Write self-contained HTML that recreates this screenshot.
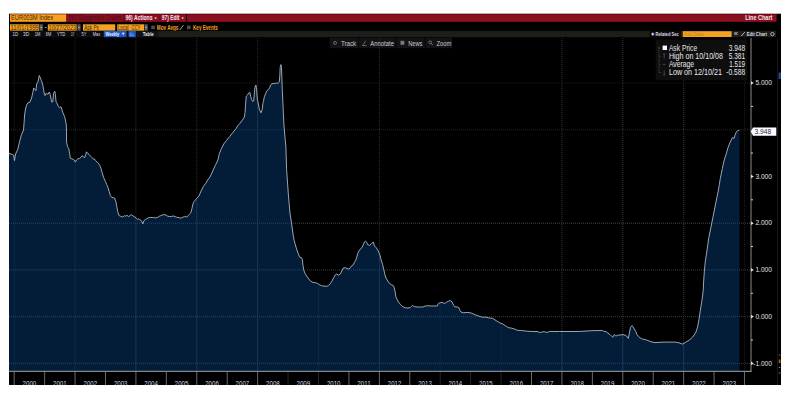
<!DOCTYPE html>
<html><head><meta charset="utf-8">
<style>
html,body{margin:0;padding:0;background:#fff;width:794px;height:410px;overflow:hidden}
svg{display:block}
text{font-family:"Liberation Sans",sans-serif}
</style></head>
<body>
<svg width="794" height="410" viewBox="0 0 794 410">
<defs>
<clipPath id="ca"><path d="M9.0,153.4 L12.5,154.5 L13.6,155.0 L14.5,160.7 L15.6,154.0 L17.7,149.5 L19.6,141.7 L21.1,135.9 L23.5,130.0 L24.1,122.6 L24.6,115.0 L25.5,109.0 L26.7,104.8 L27.9,102.9 L29.8,102.3 L31.6,98.0 L32.8,92.6 L33.7,88.0 L34.9,89.5 L35.9,90.7 L36.8,83.4 L38.0,81.6 L39.3,75.5 L40.1,77.3 L41.3,80.4 L42.6,84.0 L43.8,90.7 L44.4,94.4 L45.0,95.6 L46.2,93.2 L48.0,94.4 L49.3,92.0 L50.2,94.4 L51.1,99.3 L52.0,102.3 L52.9,101.1 L53.5,93.2 L54.8,91.3 L55.4,94.4 L56.0,101.7 L57.2,103.5 L58.4,106.6 L59.6,107.8 L60.9,106.6 L62.1,110.2 L63.3,113.9 L64.5,116.3 L65.4,120.0 L66.3,125.0 L66.5,135.0 L66.6,142.3 L67.5,146.6 L68.7,148.4 L69.6,153.3 L70.3,158.2 L71.8,158.8 L73.6,159.4 L74.8,161.2 L75.4,162.1 L76.4,160.0 L77.9,158.8 L79.7,158.4 L81.3,157.0 L82.1,155.7 L83.3,156.7 L84.6,157.6 L85.8,154.5 L86.4,151.8 L87.6,153.3 L89.1,154.5 L90.7,156.3 L91.9,157.6 L93.5,159.1 L94.3,158.8 L95.5,160.6 L97.4,162.4 L98.6,163.7 L99.8,165.5 L101.0,168.5 L102.2,172.8 L103.6,177.5 L105.5,181.6 L106.7,184.6 L107.9,187.1 L109.1,191.3 L110.4,195.6 L111.6,197.4 L113.4,197.8 L114.6,198.0 L115.9,201.7 L116.8,206.6 L117.7,211.5 L118.9,215.4 L120.7,216.3 L122.6,217.0 L124.4,215.7 L125.6,216.1 L127.1,215.4 L128.7,216.6 L130.5,215.1 L131.7,214.9 L133.2,216.1 L134.8,217.0 L136.3,218.2 L137.8,219.4 L139.0,218.8 L140.0,219.8 L141.5,220.8 L142.9,223.8 L144.0,220.5 L145.5,219.4 L146.9,218.7 L148.8,217.6 L150.6,217.4 L152.4,217.6 L154.3,217.6 L155.7,217.9 L157.2,217.6 L158.7,216.5 L160.5,215.7 L162.3,215.0 L164.1,214.6 L166.0,215.0 L167.4,216.1 L169.3,216.5 L171.5,216.5 L173.3,215.9 L175.1,216.8 L177.3,217.4 L179.1,217.6 L181.0,218.3 L182.8,217.2 L184.6,216.5 L186.8,217.0 L188.3,215.4 L189.7,213.9 L190.8,212.8 L191.9,208.8 L193.0,203.7 L194.1,201.5 L196.7,198.3 L198.9,196.1 L201.1,191.0 L203.3,186.6 L204.3,185.1 L205.5,183.7 L207.7,180.0 L209.9,177.1 L211.4,174.2 L213.6,169.0 L215.7,164.6 L217.9,160.0 L219.4,153.5 L221.6,148.3 L223.8,143.9 L226.7,140.3 L229.6,136.6 L232.6,132.9 L235.5,129.3 L238.4,124.9 L240.0,123.2 L242.4,120.1 L244.3,117.1 L245.1,112.2 L245.5,104.9 L245.9,100.2 L246.3,96.0 L247.6,94.8 L248.8,92.9 L249.8,92.3 L250.7,96.6 L251.6,99.6 L252.8,101.5 L253.7,100.9 L254.4,92.9 L254.9,87.4 L255.9,85.0 L256.6,89.3 L257.3,99.0 L258.3,104.0 L259.5,109.8 L261.0,112.8 L262.2,109.8 L262.9,103.5 L263.4,101.5 L264.4,96.6 L265.9,92.9 L267.1,90.5 L268.7,89.3 L269.9,87.4 L270.5,85.0 L272.0,83.8 L274.1,83.4 L276.6,83.2 L278.4,82.9 L279.3,82.0 L279.8,75.9 L280.2,67.3 L280.9,64.6 L281.5,67.3 L281.8,75.9 L282.3,90.5 L282.9,102.7 L283.3,112.2 L283.9,124.4 L284.9,136.6 L285.9,147.0 L286.6,169.4 L288.3,193.8 L290.0,213.3 L291.5,223.0 L293.2,235.2 L294.2,240.5 L295.4,244.9 L296.6,249.1 L298.2,253.4 L299.6,257.1 L301.5,257.7 L302.3,259.5 L303.0,265.6 L303.9,270.5 L305.1,273.5 L307.0,276.6 L308.8,279.0 L310.6,281.2 L313.0,282.4 L315.5,282.7 L317.3,283.3 L319.1,284.5 L321.6,285.7 L324.0,286.1 L326.5,286.3 L328.3,285.7 L330.1,283.9 L331.8,281.3 L333.7,277.7 L335.5,274.6 L336.7,274.0 L338.5,275.2 L340.4,274.0 L342.0,270.4 L343.4,267.9 L345.2,267.7 L347.1,268.5 L348.9,269.1 L350.1,267.9 L351.3,266.1 L353.2,264.9 L354.4,262.4 L355.6,260.6 L356.8,257.0 L357.8,253.3 L359.0,250.9 L360.5,249.0 L362.0,247.2 L363.2,244.8 L364.4,242.1 L365.6,241.1 L366.6,242.3 L367.8,244.8 L369.6,245.4 L371.5,243.5 L373.3,242.1 L374.5,246.0 L376.3,247.8 L378.2,250.9 L379.9,254.9 L381.1,259.8 L382.6,264.6 L383.8,269.5 L384.8,274.4 L386.0,278.0 L387.8,281.1 L389.6,283.5 L391.5,284.8 L393.3,285.6 L394.3,287.8 L395.1,291.5 L395.8,296.6 L397.0,299.4 L398.7,302.3 L400.7,304.8 L402.8,306.8 L405.7,307.9 L408.1,308.0 L410.2,307.6 L411.4,306.4 L412.6,305.4 L414.3,306.6 L417.1,307.0 L419.6,307.0 L422.9,307.0 L425.3,306.0 L427.8,305.7 L431.1,306.0 L434.3,306.0 L437.2,306.0 L438.4,303.5 L440.1,302.7 L442.1,302.5 L444.6,303.5 L446.6,302.1 L448.7,301.1 L450.3,300.5 L452.0,301.9 L453.6,305.2 L454.8,306.8 L457.3,307.0 L458.9,307.6 L460.0,310.5 L461.1,312.1 L463.7,312.8 L467.1,312.4 L470.5,312.8 L473.0,313.8 L475.6,315.0 L479.0,316.2 L482.4,317.2 L485.8,317.2 L489.2,317.9 L492.7,318.4 L496.1,320.6 L499.5,322.7 L502.9,324.0 L506.3,326.4 L508.9,327.8 L511.4,328.1 L514.8,329.1 L517.4,330.3 L521.7,330.5 L526.8,331.2 L531.9,331.5 L537.0,331.5 L540.4,332.6 L543.0,331.7 L545.6,332.0 L547.2,332.5 L549.4,331.5 L559.6,331.5 L578.7,331.5 L591.9,330.7 L602.6,330.5 L604.1,331.5 L606.0,331.6 L607.8,333.1 L610.1,334.6 L612.8,337.3 L614.3,334.6 L615.8,336.1 L617.7,335.2 L620.0,335.0 L623.0,334.6 L625.2,335.2 L626.7,336.1 L628.3,338.4 L629.4,333.1 L630.5,327.4 L632.0,325.6 L632.8,326.7 L634.3,329.0 L635.8,331.6 L637.0,334.6 L638.5,336.5 L640.4,338.0 L642.6,339.2 L644.9,339.5 L647.9,340.5 L650.9,341.8 L655.0,342.6 L658.0,342.4 L665.4,342.1 L675.2,342.1 L679.1,342.9 L682.6,344.1 L685.9,342.1 L689.8,339.6 L692.7,337.0 L695.7,332.7 L697.6,326.9 L699.0,319.1 L700.2,311.3 L702.1,299.5 L703.3,289.8 L703.6,282.0 L704.3,271.8 L705.4,260.8 L707.1,249.8 L708.6,238.9 L710.8,227.9 L713.0,216.9 L715.2,206.0 L717.4,195.0 L718.0,192.1 L719.4,184.3 L720.3,178.5 L722.3,168.7 L724.2,160.0 L726.2,154.1 L728.1,147.3 L730.1,142.4 L732.4,137.5 L734.0,138.5 L735.0,135.2 L736.3,132.1 L737.5,130.7 L739.2,130.3 L739.5,130.3 L739.5,371 L9,371 Z"/></clipPath>
<clipPath id="cb"><rect x="9" y="13.5" width="772" height="371.5"/></clipPath>
</defs>
<rect x="9" y="13.7" width="772" height="371.3" fill="#000"/>
<line x1="777.5" y1="38" x2="777.5" y2="385" stroke="#161616"/>
<rect x="778.6" y="72.5" width="2.2" height="6.5" fill="#1d4f96"/>
<rect x="778.8" y="359.5" width="1.6" height="3.6" fill="#b8681a"/>
<rect x="778.8" y="354.5" width="1.4" height="1" fill="#888"/>
<rect x="778.8" y="367" width="1.4" height="1" fill="#888"/>
<rect x="778.8" y="372.5" width="1.4" height="1" fill="#888"/>
<line x1="14.20" y1="38" x2="14.20" y2="371" stroke="#1e1e1e" stroke-dasharray="1 1"/>
<line x1="75.06" y1="38" x2="75.06" y2="371" stroke="#1e1e1e" stroke-dasharray="1 1"/>
<line x1="135.92" y1="38" x2="135.92" y2="371" stroke="#2c2c2c" stroke-dasharray="1 1"/>
<line x1="196.78" y1="38" x2="196.78" y2="371" stroke="#2c2c2c" stroke-dasharray="1 1"/>
<line x1="257.64" y1="38" x2="257.64" y2="371" stroke="#2c2c2c" stroke-dasharray="1 1"/>
<line x1="379.36" y1="38" x2="379.36" y2="371" stroke="#2c2c2c" stroke-dasharray="1 1"/>
<line x1="561.94" y1="38" x2="561.94" y2="371" stroke="#363636" stroke-dasharray="1 1"/>
<line x1="622.80" y1="38" x2="622.80" y2="371" stroke="#363636" stroke-dasharray="1 1"/>
<line x1="683.66" y1="38" x2="683.66" y2="371" stroke="#363636" stroke-dasharray="1 1"/>
<line x1="744.52" y1="38" x2="744.52" y2="371" stroke="#1e1e1e" stroke-dasharray="1 1"/>
<line x1="9" y1="363.38" x2="750" y2="363.38" stroke="#3c3c3c" stroke-dasharray="1 1"/>
<line x1="9" y1="316.65" x2="750" y2="316.65" stroke="#3c3c3c" stroke-dasharray="1 1"/>
<line x1="9" y1="269.92" x2="750" y2="269.92" stroke="#3c3c3c" stroke-dasharray="1 1"/>
<line x1="9" y1="223.19" x2="750" y2="223.19" stroke="#464646" stroke-dasharray="1 1"/>
<line x1="9" y1="129.73" x2="750" y2="129.73" stroke="#262626" stroke-dasharray="1 1"/>
<line x1="9" y1="83.00" x2="750" y2="83.00" stroke="#1a1a1a" stroke-dasharray="1 1"/>
<path d="M9.0,153.4 L12.5,154.5 L13.6,155.0 L14.5,160.7 L15.6,154.0 L17.7,149.5 L19.6,141.7 L21.1,135.9 L23.5,130.0 L24.1,122.6 L24.6,115.0 L25.5,109.0 L26.7,104.8 L27.9,102.9 L29.8,102.3 L31.6,98.0 L32.8,92.6 L33.7,88.0 L34.9,89.5 L35.9,90.7 L36.8,83.4 L38.0,81.6 L39.3,75.5 L40.1,77.3 L41.3,80.4 L42.6,84.0 L43.8,90.7 L44.4,94.4 L45.0,95.6 L46.2,93.2 L48.0,94.4 L49.3,92.0 L50.2,94.4 L51.1,99.3 L52.0,102.3 L52.9,101.1 L53.5,93.2 L54.8,91.3 L55.4,94.4 L56.0,101.7 L57.2,103.5 L58.4,106.6 L59.6,107.8 L60.9,106.6 L62.1,110.2 L63.3,113.9 L64.5,116.3 L65.4,120.0 L66.3,125.0 L66.5,135.0 L66.6,142.3 L67.5,146.6 L68.7,148.4 L69.6,153.3 L70.3,158.2 L71.8,158.8 L73.6,159.4 L74.8,161.2 L75.4,162.1 L76.4,160.0 L77.9,158.8 L79.7,158.4 L81.3,157.0 L82.1,155.7 L83.3,156.7 L84.6,157.6 L85.8,154.5 L86.4,151.8 L87.6,153.3 L89.1,154.5 L90.7,156.3 L91.9,157.6 L93.5,159.1 L94.3,158.8 L95.5,160.6 L97.4,162.4 L98.6,163.7 L99.8,165.5 L101.0,168.5 L102.2,172.8 L103.6,177.5 L105.5,181.6 L106.7,184.6 L107.9,187.1 L109.1,191.3 L110.4,195.6 L111.6,197.4 L113.4,197.8 L114.6,198.0 L115.9,201.7 L116.8,206.6 L117.7,211.5 L118.9,215.4 L120.7,216.3 L122.6,217.0 L124.4,215.7 L125.6,216.1 L127.1,215.4 L128.7,216.6 L130.5,215.1 L131.7,214.9 L133.2,216.1 L134.8,217.0 L136.3,218.2 L137.8,219.4 L139.0,218.8 L140.0,219.8 L141.5,220.8 L142.9,223.8 L144.0,220.5 L145.5,219.4 L146.9,218.7 L148.8,217.6 L150.6,217.4 L152.4,217.6 L154.3,217.6 L155.7,217.9 L157.2,217.6 L158.7,216.5 L160.5,215.7 L162.3,215.0 L164.1,214.6 L166.0,215.0 L167.4,216.1 L169.3,216.5 L171.5,216.5 L173.3,215.9 L175.1,216.8 L177.3,217.4 L179.1,217.6 L181.0,218.3 L182.8,217.2 L184.6,216.5 L186.8,217.0 L188.3,215.4 L189.7,213.9 L190.8,212.8 L191.9,208.8 L193.0,203.7 L194.1,201.5 L196.7,198.3 L198.9,196.1 L201.1,191.0 L203.3,186.6 L204.3,185.1 L205.5,183.7 L207.7,180.0 L209.9,177.1 L211.4,174.2 L213.6,169.0 L215.7,164.6 L217.9,160.0 L219.4,153.5 L221.6,148.3 L223.8,143.9 L226.7,140.3 L229.6,136.6 L232.6,132.9 L235.5,129.3 L238.4,124.9 L240.0,123.2 L242.4,120.1 L244.3,117.1 L245.1,112.2 L245.5,104.9 L245.9,100.2 L246.3,96.0 L247.6,94.8 L248.8,92.9 L249.8,92.3 L250.7,96.6 L251.6,99.6 L252.8,101.5 L253.7,100.9 L254.4,92.9 L254.9,87.4 L255.9,85.0 L256.6,89.3 L257.3,99.0 L258.3,104.0 L259.5,109.8 L261.0,112.8 L262.2,109.8 L262.9,103.5 L263.4,101.5 L264.4,96.6 L265.9,92.9 L267.1,90.5 L268.7,89.3 L269.9,87.4 L270.5,85.0 L272.0,83.8 L274.1,83.4 L276.6,83.2 L278.4,82.9 L279.3,82.0 L279.8,75.9 L280.2,67.3 L280.9,64.6 L281.5,67.3 L281.8,75.9 L282.3,90.5 L282.9,102.7 L283.3,112.2 L283.9,124.4 L284.9,136.6 L285.9,147.0 L286.6,169.4 L288.3,193.8 L290.0,213.3 L291.5,223.0 L293.2,235.2 L294.2,240.5 L295.4,244.9 L296.6,249.1 L298.2,253.4 L299.6,257.1 L301.5,257.7 L302.3,259.5 L303.0,265.6 L303.9,270.5 L305.1,273.5 L307.0,276.6 L308.8,279.0 L310.6,281.2 L313.0,282.4 L315.5,282.7 L317.3,283.3 L319.1,284.5 L321.6,285.7 L324.0,286.1 L326.5,286.3 L328.3,285.7 L330.1,283.9 L331.8,281.3 L333.7,277.7 L335.5,274.6 L336.7,274.0 L338.5,275.2 L340.4,274.0 L342.0,270.4 L343.4,267.9 L345.2,267.7 L347.1,268.5 L348.9,269.1 L350.1,267.9 L351.3,266.1 L353.2,264.9 L354.4,262.4 L355.6,260.6 L356.8,257.0 L357.8,253.3 L359.0,250.9 L360.5,249.0 L362.0,247.2 L363.2,244.8 L364.4,242.1 L365.6,241.1 L366.6,242.3 L367.8,244.8 L369.6,245.4 L371.5,243.5 L373.3,242.1 L374.5,246.0 L376.3,247.8 L378.2,250.9 L379.9,254.9 L381.1,259.8 L382.6,264.6 L383.8,269.5 L384.8,274.4 L386.0,278.0 L387.8,281.1 L389.6,283.5 L391.5,284.8 L393.3,285.6 L394.3,287.8 L395.1,291.5 L395.8,296.6 L397.0,299.4 L398.7,302.3 L400.7,304.8 L402.8,306.8 L405.7,307.9 L408.1,308.0 L410.2,307.6 L411.4,306.4 L412.6,305.4 L414.3,306.6 L417.1,307.0 L419.6,307.0 L422.9,307.0 L425.3,306.0 L427.8,305.7 L431.1,306.0 L434.3,306.0 L437.2,306.0 L438.4,303.5 L440.1,302.7 L442.1,302.5 L444.6,303.5 L446.6,302.1 L448.7,301.1 L450.3,300.5 L452.0,301.9 L453.6,305.2 L454.8,306.8 L457.3,307.0 L458.9,307.6 L460.0,310.5 L461.1,312.1 L463.7,312.8 L467.1,312.4 L470.5,312.8 L473.0,313.8 L475.6,315.0 L479.0,316.2 L482.4,317.2 L485.8,317.2 L489.2,317.9 L492.7,318.4 L496.1,320.6 L499.5,322.7 L502.9,324.0 L506.3,326.4 L508.9,327.8 L511.4,328.1 L514.8,329.1 L517.4,330.3 L521.7,330.5 L526.8,331.2 L531.9,331.5 L537.0,331.5 L540.4,332.6 L543.0,331.7 L545.6,332.0 L547.2,332.5 L549.4,331.5 L559.6,331.5 L578.7,331.5 L591.9,330.7 L602.6,330.5 L604.1,331.5 L606.0,331.6 L607.8,333.1 L610.1,334.6 L612.8,337.3 L614.3,334.6 L615.8,336.1 L617.7,335.2 L620.0,335.0 L623.0,334.6 L625.2,335.2 L626.7,336.1 L628.3,338.4 L629.4,333.1 L630.5,327.4 L632.0,325.6 L632.8,326.7 L634.3,329.0 L635.8,331.6 L637.0,334.6 L638.5,336.5 L640.4,338.0 L642.6,339.2 L644.9,339.5 L647.9,340.5 L650.9,341.8 L655.0,342.6 L658.0,342.4 L665.4,342.1 L675.2,342.1 L679.1,342.9 L682.6,344.1 L685.9,342.1 L689.8,339.6 L692.7,337.0 L695.7,332.7 L697.6,326.9 L699.0,319.1 L700.2,311.3 L702.1,299.5 L703.3,289.8 L703.6,282.0 L704.3,271.8 L705.4,260.8 L707.1,249.8 L708.6,238.9 L710.8,227.9 L713.0,216.9 L715.2,206.0 L717.4,195.0 L718.0,192.1 L719.4,184.3 L720.3,178.5 L722.3,168.7 L724.2,160.0 L726.2,154.1 L728.1,147.3 L730.1,142.4 L732.4,137.5 L734.0,138.5 L735.0,135.2 L736.3,132.1 L737.5,130.7 L739.2,130.3 L739.5,130.3 L739.5,371 L9,371 Z" fill="#031c38"/>
<g clip-path="url(#ca)">
<line x1="14.20" y1="38" x2="14.20" y2="371" stroke="#0e2948"/>
<line x1="75.06" y1="38" x2="75.06" y2="371" stroke="#0e2948"/>
<line x1="135.92" y1="38" x2="135.92" y2="371" stroke="#173655"/>
<line x1="196.78" y1="38" x2="196.78" y2="371" stroke="#173655"/>
<line x1="257.64" y1="38" x2="257.64" y2="371" stroke="#173655"/>
<line x1="318.50" y1="38" x2="318.50" y2="371" stroke="#0b2544"/>
<line x1="379.36" y1="38" x2="379.36" y2="371" stroke="#173655"/>
<line x1="440.22" y1="38" x2="440.22" y2="371" stroke="#0b2544"/>
<line x1="501.08" y1="38" x2="501.08" y2="371" stroke="#0b2544"/>
<line x1="561.94" y1="38" x2="561.94" y2="371" stroke="#1a3a5c"/>
<line x1="622.80" y1="38" x2="622.80" y2="371" stroke="#1a3a5c"/>
<line x1="683.66" y1="38" x2="683.66" y2="371" stroke="#1a3a5c"/>
<line x1="744.52" y1="38" x2="744.52" y2="371" stroke="#0e2948"/>
<line x1="9" y1="363.38" x2="750" y2="363.38" stroke="#22466c" stroke-dasharray="1 1"/>
<line x1="9" y1="316.65" x2="750" y2="316.65" stroke="#22466c" stroke-dasharray="1 1"/>
<line x1="9" y1="269.92" x2="750" y2="269.92" stroke="#22466c" stroke-dasharray="1 1"/>
<line x1="9" y1="223.19" x2="750" y2="223.19" stroke="#22466c" stroke-dasharray="1 1"/>
<line x1="9" y1="129.73" x2="750" y2="129.73" stroke="#0e2a4a"/>
<line x1="9" y1="83.00" x2="750" y2="83.00" stroke="#0e2a4a"/>
</g>
<path d="M9.0,153.4 L12.5,154.5 L13.6,155.0 L14.5,160.7 L15.6,154.0 L17.7,149.5 L19.6,141.7 L21.1,135.9 L23.5,130.0 L24.1,122.6 L24.6,115.0 L25.5,109.0 L26.7,104.8 L27.9,102.9 L29.8,102.3 L31.6,98.0 L32.8,92.6 L33.7,88.0 L34.9,89.5 L35.9,90.7 L36.8,83.4 L38.0,81.6 L39.3,75.5 L40.1,77.3 L41.3,80.4 L42.6,84.0 L43.8,90.7 L44.4,94.4 L45.0,95.6 L46.2,93.2 L48.0,94.4 L49.3,92.0 L50.2,94.4 L51.1,99.3 L52.0,102.3 L52.9,101.1 L53.5,93.2 L54.8,91.3 L55.4,94.4 L56.0,101.7 L57.2,103.5 L58.4,106.6 L59.6,107.8 L60.9,106.6 L62.1,110.2 L63.3,113.9 L64.5,116.3 L65.4,120.0 L66.3,125.0 L66.5,135.0 L66.6,142.3 L67.5,146.6 L68.7,148.4 L69.6,153.3 L70.3,158.2 L71.8,158.8 L73.6,159.4 L74.8,161.2 L75.4,162.1 L76.4,160.0 L77.9,158.8 L79.7,158.4 L81.3,157.0 L82.1,155.7 L83.3,156.7 L84.6,157.6 L85.8,154.5 L86.4,151.8 L87.6,153.3 L89.1,154.5 L90.7,156.3 L91.9,157.6 L93.5,159.1 L94.3,158.8 L95.5,160.6 L97.4,162.4 L98.6,163.7 L99.8,165.5 L101.0,168.5 L102.2,172.8 L103.6,177.5 L105.5,181.6 L106.7,184.6 L107.9,187.1 L109.1,191.3 L110.4,195.6 L111.6,197.4 L113.4,197.8 L114.6,198.0 L115.9,201.7 L116.8,206.6 L117.7,211.5 L118.9,215.4 L120.7,216.3 L122.6,217.0 L124.4,215.7 L125.6,216.1 L127.1,215.4 L128.7,216.6 L130.5,215.1 L131.7,214.9 L133.2,216.1 L134.8,217.0 L136.3,218.2 L137.8,219.4 L139.0,218.8 L140.0,219.8 L141.5,220.8 L142.9,223.8 L144.0,220.5 L145.5,219.4 L146.9,218.7 L148.8,217.6 L150.6,217.4 L152.4,217.6 L154.3,217.6 L155.7,217.9 L157.2,217.6 L158.7,216.5 L160.5,215.7 L162.3,215.0 L164.1,214.6 L166.0,215.0 L167.4,216.1 L169.3,216.5 L171.5,216.5 L173.3,215.9 L175.1,216.8 L177.3,217.4 L179.1,217.6 L181.0,218.3 L182.8,217.2 L184.6,216.5 L186.8,217.0 L188.3,215.4 L189.7,213.9 L190.8,212.8 L191.9,208.8 L193.0,203.7 L194.1,201.5 L196.7,198.3 L198.9,196.1 L201.1,191.0 L203.3,186.6 L204.3,185.1 L205.5,183.7 L207.7,180.0 L209.9,177.1 L211.4,174.2 L213.6,169.0 L215.7,164.6 L217.9,160.0 L219.4,153.5 L221.6,148.3 L223.8,143.9 L226.7,140.3 L229.6,136.6 L232.6,132.9 L235.5,129.3 L238.4,124.9 L240.0,123.2 L242.4,120.1 L244.3,117.1 L245.1,112.2 L245.5,104.9 L245.9,100.2 L246.3,96.0 L247.6,94.8 L248.8,92.9 L249.8,92.3 L250.7,96.6 L251.6,99.6 L252.8,101.5 L253.7,100.9 L254.4,92.9 L254.9,87.4 L255.9,85.0 L256.6,89.3 L257.3,99.0 L258.3,104.0 L259.5,109.8 L261.0,112.8 L262.2,109.8 L262.9,103.5 L263.4,101.5 L264.4,96.6 L265.9,92.9 L267.1,90.5 L268.7,89.3 L269.9,87.4 L270.5,85.0 L272.0,83.8 L274.1,83.4 L276.6,83.2 L278.4,82.9 L279.3,82.0 L279.8,75.9 L280.2,67.3 L280.9,64.6 L281.5,67.3 L281.8,75.9 L282.3,90.5 L282.9,102.7 L283.3,112.2 L283.9,124.4 L284.9,136.6 L285.9,147.0 L286.6,169.4 L288.3,193.8 L290.0,213.3 L291.5,223.0 L293.2,235.2 L294.2,240.5 L295.4,244.9 L296.6,249.1 L298.2,253.4 L299.6,257.1 L301.5,257.7 L302.3,259.5 L303.0,265.6 L303.9,270.5 L305.1,273.5 L307.0,276.6 L308.8,279.0 L310.6,281.2 L313.0,282.4 L315.5,282.7 L317.3,283.3 L319.1,284.5 L321.6,285.7 L324.0,286.1 L326.5,286.3 L328.3,285.7 L330.1,283.9 L331.8,281.3 L333.7,277.7 L335.5,274.6 L336.7,274.0 L338.5,275.2 L340.4,274.0 L342.0,270.4 L343.4,267.9 L345.2,267.7 L347.1,268.5 L348.9,269.1 L350.1,267.9 L351.3,266.1 L353.2,264.9 L354.4,262.4 L355.6,260.6 L356.8,257.0 L357.8,253.3 L359.0,250.9 L360.5,249.0 L362.0,247.2 L363.2,244.8 L364.4,242.1 L365.6,241.1 L366.6,242.3 L367.8,244.8 L369.6,245.4 L371.5,243.5 L373.3,242.1 L374.5,246.0 L376.3,247.8 L378.2,250.9 L379.9,254.9 L381.1,259.8 L382.6,264.6 L383.8,269.5 L384.8,274.4 L386.0,278.0 L387.8,281.1 L389.6,283.5 L391.5,284.8 L393.3,285.6 L394.3,287.8 L395.1,291.5 L395.8,296.6 L397.0,299.4 L398.7,302.3 L400.7,304.8 L402.8,306.8 L405.7,307.9 L408.1,308.0 L410.2,307.6 L411.4,306.4 L412.6,305.4 L414.3,306.6 L417.1,307.0 L419.6,307.0 L422.9,307.0 L425.3,306.0 L427.8,305.7 L431.1,306.0 L434.3,306.0 L437.2,306.0 L438.4,303.5 L440.1,302.7 L442.1,302.5 L444.6,303.5 L446.6,302.1 L448.7,301.1 L450.3,300.5 L452.0,301.9 L453.6,305.2 L454.8,306.8 L457.3,307.0 L458.9,307.6 L460.0,310.5 L461.1,312.1 L463.7,312.8 L467.1,312.4 L470.5,312.8 L473.0,313.8 L475.6,315.0 L479.0,316.2 L482.4,317.2 L485.8,317.2 L489.2,317.9 L492.7,318.4 L496.1,320.6 L499.5,322.7 L502.9,324.0 L506.3,326.4 L508.9,327.8 L511.4,328.1 L514.8,329.1 L517.4,330.3 L521.7,330.5 L526.8,331.2 L531.9,331.5 L537.0,331.5 L540.4,332.6 L543.0,331.7 L545.6,332.0 L547.2,332.5 L549.4,331.5 L559.6,331.5 L578.7,331.5 L591.9,330.7 L602.6,330.5 L604.1,331.5 L606.0,331.6 L607.8,333.1 L610.1,334.6 L612.8,337.3 L614.3,334.6 L615.8,336.1 L617.7,335.2 L620.0,335.0 L623.0,334.6 L625.2,335.2 L626.7,336.1 L628.3,338.4 L629.4,333.1 L630.5,327.4 L632.0,325.6 L632.8,326.7 L634.3,329.0 L635.8,331.6 L637.0,334.6 L638.5,336.5 L640.4,338.0 L642.6,339.2 L644.9,339.5 L647.9,340.5 L650.9,341.8 L655.0,342.6 L658.0,342.4 L665.4,342.1 L675.2,342.1 L679.1,342.9 L682.6,344.1 L685.9,342.1 L689.8,339.6 L692.7,337.0 L695.7,332.7 L697.6,326.9 L699.0,319.1 L700.2,311.3 L702.1,299.5 L703.3,289.8 L703.6,282.0 L704.3,271.8 L705.4,260.8 L707.1,249.8 L708.6,238.9 L710.8,227.9 L713.0,216.9 L715.2,206.0 L717.4,195.0 L718.0,192.1 L719.4,184.3 L720.3,178.5 L722.3,168.7 L724.2,160.0 L726.2,154.1 L728.1,147.3 L730.1,142.4 L732.4,137.5 L734.0,138.5 L735.0,135.2 L736.3,132.1 L737.5,130.7 L739.2,130.3" fill="none" stroke="#aeb6c0" stroke-width="0.9"/>
<line x1="751" y1="38" x2="751" y2="371.7" stroke="#8a8a8a"/>
<line x1="9" y1="371.3" x2="751.5" y2="371.3" stroke="#a2a8b0"/>
<g clip-path="url(#cb)">
<line x1="14.20" y1="372" x2="14.20" y2="385" stroke="#6a6a6a"/>
<line x1="44.63" y1="372" x2="44.63" y2="385" stroke="#6a6a6a"/>
<line x1="75.06" y1="372" x2="75.06" y2="385" stroke="#6a6a6a"/>
<line x1="105.49" y1="372" x2="105.49" y2="385" stroke="#6a6a6a"/>
<line x1="135.92" y1="372" x2="135.92" y2="385" stroke="#6a6a6a"/>
<line x1="166.35" y1="372" x2="166.35" y2="385" stroke="#6a6a6a"/>
<line x1="196.78" y1="372" x2="196.78" y2="385" stroke="#6a6a6a"/>
<line x1="227.21" y1="372" x2="227.21" y2="385" stroke="#6a6a6a"/>
<line x1="257.64" y1="372" x2="257.64" y2="385" stroke="#6a6a6a"/>
<line x1="288.07" y1="372" x2="288.07" y2="385" stroke="#262626"/>
<line x1="318.50" y1="372" x2="318.50" y2="385" stroke="#262626"/>
<line x1="348.93" y1="372" x2="348.93" y2="385" stroke="#6a6a6a"/>
<line x1="379.36" y1="372" x2="379.36" y2="385" stroke="#6a6a6a"/>
<line x1="409.79" y1="372" x2="409.79" y2="385" stroke="#6a6a6a"/>
<line x1="440.22" y1="372" x2="440.22" y2="385" stroke="#262626"/>
<line x1="470.65" y1="372" x2="470.65" y2="385" stroke="#262626"/>
<line x1="501.08" y1="372" x2="501.08" y2="385" stroke="#262626"/>
<line x1="531.51" y1="372" x2="531.51" y2="385" stroke="#6a6a6a"/>
<line x1="561.94" y1="372" x2="561.94" y2="385" stroke="#6a6a6a"/>
<line x1="592.37" y1="372" x2="592.37" y2="385" stroke="#6a6a6a"/>
<line x1="622.80" y1="372" x2="622.80" y2="385" stroke="#6a6a6a"/>
<line x1="653.23" y1="372" x2="653.23" y2="385" stroke="#6a6a6a"/>
<line x1="683.66" y1="372" x2="683.66" y2="385" stroke="#6a6a6a"/>
<line x1="714.09" y1="372" x2="714.09" y2="385" stroke="#6a6a6a"/>
<line x1="744.52" y1="372" x2="744.52" y2="385" stroke="#6a6a6a"/>
<text x="22.6" y="386.0" textLength="13.6" lengthAdjust="spacingAndGlyphs" style="font-size:7.2px;fill:#cfd6e6;">2000</text>
<text x="53.0" y="386.0" textLength="13.6" lengthAdjust="spacingAndGlyphs" style="font-size:7.2px;fill:#cfd6e6;">2001</text>
<text x="83.5" y="386.0" textLength="13.6" lengthAdjust="spacingAndGlyphs" style="font-size:7.2px;fill:#cfd6e6;">2002</text>
<text x="113.9" y="386.0" textLength="13.6" lengthAdjust="spacingAndGlyphs" style="font-size:7.2px;fill:#cfd6e6;">2003</text>
<text x="144.3" y="386.0" textLength="13.6" lengthAdjust="spacingAndGlyphs" style="font-size:7.2px;fill:#cfd6e6;">2004</text>
<text x="174.8" y="386.0" textLength="13.6" lengthAdjust="spacingAndGlyphs" style="font-size:7.2px;fill:#cfd6e6;">2005</text>
<text x="205.2" y="386.0" textLength="13.6" lengthAdjust="spacingAndGlyphs" style="font-size:7.2px;fill:#cfd6e6;">2006</text>
<text x="235.6" y="386.0" textLength="13.6" lengthAdjust="spacingAndGlyphs" style="font-size:7.2px;fill:#cfd6e6;">2007</text>
<text x="266.1" y="386.0" textLength="13.6" lengthAdjust="spacingAndGlyphs" style="font-size:7.2px;fill:#cfd6e6;">2008</text>
<text x="296.5" y="386.0" textLength="13.6" lengthAdjust="spacingAndGlyphs" style="font-size:7.2px;fill:#cfd6e6;">2009</text>
<text x="326.9" y="386.0" textLength="13.6" lengthAdjust="spacingAndGlyphs" style="font-size:7.2px;fill:#cfd6e6;">2010</text>
<text x="357.3" y="386.0" textLength="13.6" lengthAdjust="spacingAndGlyphs" style="font-size:7.2px;fill:#cfd6e6;">2011</text>
<text x="387.8" y="386.0" textLength="13.6" lengthAdjust="spacingAndGlyphs" style="font-size:7.2px;fill:#cfd6e6;">2012</text>
<text x="418.2" y="386.0" textLength="13.6" lengthAdjust="spacingAndGlyphs" style="font-size:7.2px;fill:#cfd6e6;">2013</text>
<text x="448.6" y="386.0" textLength="13.6" lengthAdjust="spacingAndGlyphs" style="font-size:7.2px;fill:#cfd6e6;">2014</text>
<text x="479.1" y="386.0" textLength="13.6" lengthAdjust="spacingAndGlyphs" style="font-size:7.2px;fill:#cfd6e6;">2015</text>
<text x="509.5" y="386.0" textLength="13.6" lengthAdjust="spacingAndGlyphs" style="font-size:7.2px;fill:#cfd6e6;">2016</text>
<text x="539.9" y="386.0" textLength="13.6" lengthAdjust="spacingAndGlyphs" style="font-size:7.2px;fill:#cfd6e6;">2017</text>
<text x="570.4" y="386.0" textLength="13.6" lengthAdjust="spacingAndGlyphs" style="font-size:7.2px;fill:#cfd6e6;">2018</text>
<text x="600.8" y="386.0" textLength="13.6" lengthAdjust="spacingAndGlyphs" style="font-size:7.2px;fill:#cfd6e6;">2019</text>
<text x="631.2" y="386.0" textLength="13.6" lengthAdjust="spacingAndGlyphs" style="font-size:7.2px;fill:#cfd6e6;">2020</text>
<text x="661.6" y="386.0" textLength="13.6" lengthAdjust="spacingAndGlyphs" style="font-size:7.2px;fill:#cfd6e6;">2021</text>
<text x="692.1" y="386.0" textLength="13.6" lengthAdjust="spacingAndGlyphs" style="font-size:7.2px;fill:#cfd6e6;">2022</text>
<text x="722.5" y="386.0" textLength="13.6" lengthAdjust="spacingAndGlyphs" style="font-size:7.2px;fill:#cfd6e6;">2023</text>
</g>
<path d="M751,81.2 L753.8,83.0 L751,84.8 Z" fill="#e0e0e0"/>
<text x="755.4" y="85.2" textLength="16.6" lengthAdjust="spacingAndGlyphs" style="font-size:7px;fill:#e2e2e2;">5.000</text>
<path d="M751,174.7 L753.8,176.5 L751,178.3 Z" fill="#e0e0e0"/>
<text x="755.4" y="178.7" textLength="16.6" lengthAdjust="spacingAndGlyphs" style="font-size:7px;fill:#e2e2e2;">3.000</text>
<path d="M751,221.4 L753.8,223.2 L751,225.0 Z" fill="#e0e0e0"/>
<text x="755.4" y="225.4" textLength="16.6" lengthAdjust="spacingAndGlyphs" style="font-size:7px;fill:#e2e2e2;">2.000</text>
<path d="M751,268.1 L753.8,269.9 L751,271.7 Z" fill="#e0e0e0"/>
<text x="755.4" y="272.1" textLength="16.6" lengthAdjust="spacingAndGlyphs" style="font-size:7px;fill:#e2e2e2;">1.000</text>
<path d="M751,314.8 L753.8,316.6 L751,318.4 Z" fill="#e0e0e0"/>
<text x="755.4" y="318.8" textLength="16.6" lengthAdjust="spacingAndGlyphs" style="font-size:7px;fill:#e2e2e2;">0.000</text>
<path d="M751,361.6 L753.8,363.4 L751,365.2 Z" fill="#e0e0e0"/>
<text x="753.2" y="365.6" textLength="18.8" lengthAdjust="spacingAndGlyphs" style="font-size:7px;fill:#e2e2e2;">-1.000</text>
<line x1="751" y1="106.36" x2="753" y2="106.36" stroke="#d0d0d0"/>
<line x1="751" y1="153.09" x2="753" y2="153.09" stroke="#d0d0d0"/>
<line x1="751" y1="199.82" x2="753" y2="199.82" stroke="#d0d0d0"/>
<line x1="751" y1="246.55" x2="753" y2="246.55" stroke="#d0d0d0"/>
<line x1="751" y1="293.28" x2="753" y2="293.28" stroke="#d0d0d0"/>
<line x1="751" y1="340.01" x2="753" y2="340.01" stroke="#d0d0d0"/>
<path d="M750.8,131.6 L753,127.5 L776.3,127.5 L776.3,135.8 L753,135.8 Z" fill="#fff"/>
<text x="754.4" y="134.4" textLength="16.8" lengthAdjust="spacingAndGlyphs" style="font-size:7px;fill:#1b2b4c;">3.948</text>
<rect x="10" y="14" width="766.5" height="7.9" fill="#8a1020"/>
<rect x="10" y="14" width="766.5" height="1" fill="#7e0014"/>
<rect x="10" y="14.3" width="56.3" height="7.4" fill="#f5a122"/>
<text x="11.0" y="20.4" textLength="42.2" lengthAdjust="spacingAndGlyphs" style="font-size:6.8px;fill:#3b2600;">EUR003M Index</text>
<rect x="66.8" y="14.6" width="56.5" height="7.2" fill="none" stroke="#6e0a18" stroke-width="0.6"/>
<text x="68.6" y="20.2" textLength="52.9" lengthAdjust="spacingAndGlyphs" style="font-size:6.8px;fill:#4e0818;">96) Suggested Charts</text>
<line x1="124.5" y1="14" x2="124.5" y2="22" stroke="#6a0a16"/>
<text x="125.5" y="20.2" textLength="27.0" lengthAdjust="spacingAndGlyphs" style="font-size:6.8px;fill:#f4e8ec;font-weight:bold">96) Actions</text>
<path d="M154.3,17.6 L157,17.6 L155.65,19.2 Z" fill="#f2e4e8"/>
<line x1="159.8" y1="14" x2="159.8" y2="22" stroke="#6a0a16"/>
<text x="161.8" y="20.2" textLength="17.7" lengthAdjust="spacingAndGlyphs" style="font-size:6.8px;fill:#f4e8ec;font-weight:bold">97) Edit</text>
<path d="M181.3,17.6 L184,17.6 L182.65,19.2 Z" fill="#f2e4e8"/>
<rect x="186" y="14" width="1" height="8" fill="#1a0004"/>
<text x="745.2" y="20.2" textLength="27.2" lengthAdjust="spacingAndGlyphs" style="font-size:6.8px;fill:#f6eaec;font-weight:bold">Line Chart</text>
<rect x="10" y="24.3" width="29.3" height="6.5" fill="#f5a122"/>
<rect x="47.8" y="24.3" width="28.9" height="6.5" fill="#f5a122"/>
<rect x="83" y="24.3" width="32.2" height="6.5" fill="#f5a122"/>
<rect x="117.2" y="24.3" width="27.0" height="6.5" fill="#f5a122"/>
<text x="10.6" y="29.9" textLength="28.2" lengthAdjust="spacingAndGlyphs" style="font-size:6.6px;fill:#3b2600;">11/01/1999</text>
<text x="48.6" y="29.9" textLength="27.4" lengthAdjust="spacingAndGlyphs" style="font-size:6.6px;fill:#3b2600;">10/27/2023</text>
<text x="84.2" y="29.9" textLength="14.8" lengthAdjust="spacingAndGlyphs" style="font-size:6.6px;fill:#3b2600;">Ask Px</text>
<text x="117.8" y="29.9" textLength="10.7" lengthAdjust="spacingAndGlyphs" style="font-size:6.6px;fill:#3b2600;">Local</text>
<text x="131.6" y="29.9" textLength="8.6" lengthAdjust="spacingAndGlyphs" style="font-size:6.6px;fill:#3b2600;">CCY</text>
<rect x="39.8" y="24.3" width="3" height="6.5" fill="#5e5e5e"/>
<rect x="40.599999999999994" y="27" width="1.4" height="0.8" fill="#cfcfcf"/>
<rect x="77.5" y="24.3" width="3" height="6.5" fill="#5e5e5e"/>
<rect x="78.3" y="27" width="1.4" height="0.8" fill="#cfcfcf"/>
<rect x="144.7" y="24.3" width="3" height="6.5" fill="#5e5e5e"/>
<rect x="145.5" y="27" width="1.4" height="0.8" fill="#cfcfcf"/>
<rect x="44.8" y="27.3" width="1.8" height="0.7" fill="#c8c8c8"/>
<rect x="151.2" y="25.6" width="3.6" height="3.6" fill="#4e4e4e"/>
<text x="156.8" y="29.9" textLength="21.6" lengthAdjust="spacingAndGlyphs" style="font-size:6.6px;fill:#f2a020;font-weight:bold">Mov Avgs</text>
<path d="M179.8,30 L183.4,25.2" stroke="#b8b8b8" stroke-width="0.9"/>
<rect x="187" y="25.6" width="3.6" height="3.6" fill="#4e4e4e"/>
<text x="193.0" y="29.9" textLength="24.8" lengthAdjust="spacingAndGlyphs" style="font-size:6.6px;fill:#f2a020;font-weight:bold">Key Events</text>
<rect x="10" y="30.9" width="766" height="6.3" fill="#1d1d19"/>
<rect x="10" y="30.9" width="127" height="6.3" fill="#0c0c0c"/>
<text x="12.6" y="36.1" textLength="5.5" lengthAdjust="spacingAndGlyphs" style="font-size:5.6px;fill:#dcdcea;">1D</text>
<text x="23.1" y="36.1" textLength="6.1" lengthAdjust="spacingAndGlyphs" style="font-size:5.6px;fill:#dcdcea;">3D</text>
<text x="34.7" y="36.1" textLength="5.6" lengthAdjust="spacingAndGlyphs" style="font-size:5.6px;fill:#dcdcea;">1M</text>
<text x="45.8" y="36.1" textLength="5.5" lengthAdjust="spacingAndGlyphs" style="font-size:5.6px;fill:#dcdcea;">6M</text>
<text x="56.9" y="36.1" textLength="8.4" lengthAdjust="spacingAndGlyphs" style="font-size:5.6px;fill:#dcdcea;">YTD</text>
<text x="71.0" y="36.1" textLength="3.5" lengthAdjust="spacingAndGlyphs" style="font-size:5.6px;fill:#dcdcea;">1Y</text>
<text x="81.6" y="36.1" textLength="4.7" lengthAdjust="spacingAndGlyphs" style="font-size:5.6px;fill:#dcdcea;">5Y</text>
<text x="92.7" y="36.1" textLength="7.6" lengthAdjust="spacingAndGlyphs" style="font-size:5.6px;fill:#dcdcea;">Max</text>
<rect x="103.8" y="30.9" width="22.7" height="6.3" fill="#1f58cc"/>
<text x="105.6" y="36.1" textLength="13.6" lengthAdjust="spacingAndGlyphs" style="font-size:5.6px;fill:#f0f4ff;font-weight:bold">Weekly</text>
<path d="M121.8,32.8 L124.6,32.8 L123.2,35.2 Z" fill="#f0f4ff"/>
<rect x="128.5" y="30.9" width="7.3" height="6.3" fill="#1f58cc"/>
<path d="M130.2,32.5 L130.2,35.6 L134.2,35.6 M131,34.6 L132.3,33.4 L133.5,34.2" stroke="#9fb8ff" stroke-width="0.6" fill="none"/>
<rect x="137.2" y="30.9" width="21.1" height="6.3" fill="#131313"/>
<text x="142.7" y="36.1" textLength="11.1" lengthAdjust="spacingAndGlyphs" style="font-size:5.6px;fill:#e6e6ee;font-weight:bold">Table</text>
<rect x="649.6" y="30.9" width="31.2" height="6.3" fill="#0a0a0a"/>
<path d="M651.3,34.1 L654.3,34.1 M652.8,32.6 L652.8,35.6" stroke="#f4f4f4" stroke-width="1"/>
<text x="655.6" y="36.1" textLength="23.2" lengthAdjust="spacingAndGlyphs" style="font-size:5.6px;fill:#dcdcea;font-weight:bold">Related Sec</text>
<rect x="682.8" y="31.2" width="48.8" height="5.8" fill="#f5a122"/>
<text x="683.8" y="36.1" textLength="19.7" lengthAdjust="spacingAndGlyphs" style="font-size:5.6px;fill:#c98412;">Add Data</text>
<text x="733.8" y="36.4" textLength="4.2" lengthAdjust="spacingAndGlyphs" style="font-size:7px;fill:#dcdcea;">«</text>
<path d="M741.2,36 L744.8,32.2" stroke="#d0d0d0" stroke-width="0.9"/>
<text x="746.7" y="36.1" textLength="20.2" lengthAdjust="spacingAndGlyphs" style="font-size:5.6px;fill:#dcdcea;font-weight:bold">Edit Chart</text>
<circle cx="772.4" cy="34.1" r="1.7" fill="none" stroke="#bbb" stroke-width="0.9"/>
<rect x="329.7" y="37.6" width="122.6" height="10.6" fill="#131313"/>
<rect x="358.2" y="37.6" width="1" height="10.6" fill="#050505"/>
<rect x="395.5" y="37.6" width="1" height="10.6" fill="#050505"/>
<rect x="424.6" y="37.6" width="1" height="10.6" fill="#050505"/>
<line x1="379.5" y1="37.6" x2="379.5" y2="48.2" stroke="#2a2a2a" stroke-dasharray="1 1"/>
<circle cx="335" cy="42.9" r="1.5" fill="none" stroke="#8a8a8a" stroke-width="0.7"/>
<text x="341.0" y="45.6" textLength="15.2" lengthAdjust="spacingAndGlyphs" style="font-size:7.6px;fill:#c9cdd8;">Track</text>
<path d="M362.5,45.5 L366.5,45.5 M362.5,45.5 L365.8,40.8" stroke="#8a8a8a" stroke-width="0.7" fill="none"/>
<text x="370.3" y="45.6" textLength="23.7" lengthAdjust="spacingAndGlyphs" style="font-size:7.6px;fill:#c9cdd8;">Annotate</text>
<rect x="400.5" y="40.8" width="3.8" height="4" fill="#7a7a7a"/>
<text x="408.2" y="45.6" textLength="14.1" lengthAdjust="spacingAndGlyphs" style="font-size:7.6px;fill:#c9cdd8;">News</text>
<circle cx="430.2" cy="42.3" r="1.4" fill="none" stroke="#8a8a8a" stroke-width="0.7"/><path d="M431.2,43.3 L432.8,45.2" stroke="#8a8a8a" stroke-width="0.8"/>
<text x="436.4" y="45.6" textLength="15.0" lengthAdjust="spacingAndGlyphs" style="font-size:7.6px;fill:#c9cdd8;">Zoom</text>
<rect x="655.7" y="39.5" width="91.3" height="40.7" fill="#0e0e0e"/>
<circle cx="659" cy="47.8" r="0.9" fill="none" stroke="#555" stroke-width="0.5"/>
<path d="M659,49 L659,72.6 L661.5,72.6 M659,56.3 L661,56.3 M659,64.4 L661,64.4" stroke="#444" stroke-width="0.6" fill="none"/>
<rect x="662.6" y="45.6" width="4.4" height="4.4" fill="#fff"/>
<path d="M663.2,54 L665.2,54 M664.2,54 L664.2,58.6" stroke="#666" stroke-width="0.6"/>
<path d="M663,64.4 L665.4,64.4" stroke="#777" stroke-width="0.6"/>
<path d="M664.2,70.4 L664.2,75 M663.2,75 L665.2,75" stroke="#666" stroke-width="0.6"/>
<text x="668.9" y="50.8" textLength="28.3" lengthAdjust="spacingAndGlyphs" style="font-size:9px;fill:#e6e8ec;">Ask Price</text>
<text x="728.7" y="50.8" textLength="16.4" lengthAdjust="spacingAndGlyphs" style="font-size:9px;fill:#e6e8ec;">3.948</text>
<text x="668.9" y="59.0" textLength="54.1" lengthAdjust="spacingAndGlyphs" style="font-size:9px;fill:#e6e8ec;">High on 10/10/08</text>
<text x="728.7" y="59.0" textLength="16.4" lengthAdjust="spacingAndGlyphs" style="font-size:9px;fill:#e6e8ec;">5.381</text>
<text x="668.9" y="67.1" textLength="25.2" lengthAdjust="spacingAndGlyphs" style="font-size:9px;fill:#e6e8ec;">Average</text>
<text x="729.3" y="67.1" textLength="15.8" lengthAdjust="spacingAndGlyphs" style="font-size:9px;fill:#e6e8ec;">1.519</text>
<text x="668.9" y="75.3" textLength="53.1" lengthAdjust="spacingAndGlyphs" style="font-size:9px;fill:#e6e8ec;">Low on 12/10/21</text>
<text x="726.2" y="75.3" textLength="18.9" lengthAdjust="spacingAndGlyphs" style="font-size:9px;fill:#e6e8ec;">-0.588</text>
</svg>
</body></html>
